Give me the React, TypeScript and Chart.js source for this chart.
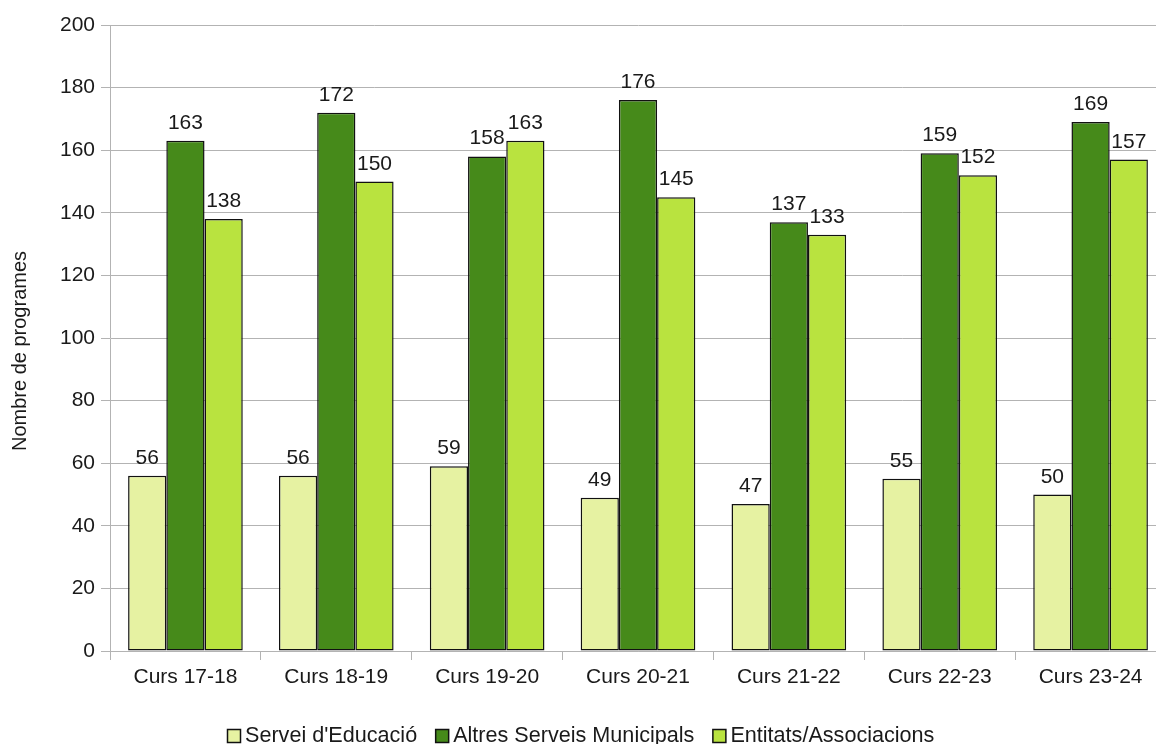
import React, { useEffect, useRef } from "react";
import { Chart, registerables } from "chart.js";

Chart.register(...registerables);

const categories = ["Curs 17-18", "Curs 18-19", "Curs 19-20", "Curs 20-21", "Curs 21-22", "Curs 22-23", "Curs 23-24"];
const serveiEducacio = [56, 56, 59, 49, 47, 55, 50];
const altresServeis = [163, 172, 158, 176, 137, 159, 169];
const entitats = [138, 150, 163, 145, 133, 152, 157];
const seriesNames = ["Servei d'Educació", "Altres Serveis Municipals", "Entitats/Associacions"];
const seriesColors = ["#e6f2a2", "#468a1a", "#b9e33f"];
const yTicks = [0, 20, 40, 60, 80, 100, 120, 140, 160, 180, 200];
const yTitle = "Nombre de programes";

const FONT = "'Liberation Sans', Arial, sans-serif";
const TEXT = "#1a1a1a";

const labelsPlugin = {
  id: "valueLabels",
  afterDatasetsDraw(chart: any) {
    const ctx = chart.ctx;
    ctx.save();
    ctx.font = `21px ${FONT}`;
    ctx.fillStyle = TEXT;
    ctx.textAlign = "center";
    ctx.textBaseline = "alphabetic";
    chart.data.datasets.forEach((ds: any, i: number) => {
      const meta = chart.getDatasetMeta(i);
      meta.data.forEach((el: any, j: number) => {
        ctx.fillText(String(ds.data[j]), el.x, el.y - 12);
      });
    });
    ctx.restore();
  },
};

const extrasPlugin = {
  id: "extras",
  afterDraw(chart: any) {
    const ctx = chart.ctx;
    ctx.save();
    ctx.font = `20px ${FONT}`;
    ctx.fillStyle = TEXT;
    ctx.textAlign = "center";
    ctx.textBaseline = "middle";
    ctx.translate(20, 351);
    ctx.rotate(-Math.PI / 2);
    ctx.fillText(yTitle, 0, 0);
    ctx.restore();

    ctx.save();
    ctx.font = `21.6px ${FONT}`;
    ctx.textBaseline = "alphabetic";
    ctx.textAlign = "left";
    let x = 227;
    const baseline = 742;
    seriesNames.forEach((name, i) => {
      ctx.fillStyle = seriesColors[i];
      ctx.fillRect(x + 0.5, 729.5, 13, 13);
      ctx.strokeStyle = "#111";
      ctx.lineWidth = 1.5;
      ctx.strokeRect(x + 0.5, 729.5, 13, 13);
      x += 18;
      ctx.fillStyle = TEXT;
      ctx.fillText(name, x, baseline);
      x += ctx.measureText(name).width + 18;
    });
    ctx.restore();
  },
};

export default function App() {
  const ref = useRef<HTMLCanvasElement>(null);
  useEffect(() => {
    if (!ref.current) return;
    const data = [serveiEducacio, altresServeis, entitats];
    const chart = new Chart(ref.current, {
      type: "bar",
      data: {
        labels: categories,
        datasets: data.map((d, i) => ({
          label: seriesNames[i],
          data: d,
          backgroundColor: seriesColors[i],
          borderColor: "#111",
          borderWidth: 1.5,
          borderSkipped: false,
          categoryPercentage: 0.76,
          barPercentage: 1,
        })),
      },
      options: {
        responsive: false,
        animation: false,
        devicePixelRatio: 1,
        layout: { padding: { top: 25, right: 14, bottom: 0, left: 0 } },
        plugins: { legend: { display: false }, tooltip: { enabled: false } },
        scales: {
          x: {
            grid: { drawOnChartArea: false, drawTicks: true, tickLength: 9, color: "#b3b3b3", offset: true },
            border: { color: "#b3b3b3", width: 1 },
            ticks: { font: { family: FONT, size: 21 }, color: TEXT, padding: 5, maxRotation: 0 },
            afterFit: (s: any) => { s.height = 93; },
          },
          y: {
            min: 0,
            max: 200,
            afterBuildTicks: (s: any) => { s.ticks = yTicks.map((v) => ({ value: v })); },
            grid: { color: "#b3b3b3", tickLength: 9, drawTicks: true },
            border: { color: "#b3b3b3", width: 1 },
            ticks: { font: { family: FONT, size: 21 }, color: TEXT, padding: 6 },
            afterFit: (s: any) => { s.width = 110; },
          },
        },
      },
      plugins: [labelsPlugin, extrasPlugin],
    });
    return () => chart.destroy();
  }, []);
  return (
    <div style={{ position: "fixed", left: 0, top: 0, width: 1156, height: 744, overflow: "hidden", background: "#fff" }}>
      <canvas ref={ref} width={1180} height={744} style={{ display: "block", width: 1180, height: 744 }} />
    </div>
  );
}
